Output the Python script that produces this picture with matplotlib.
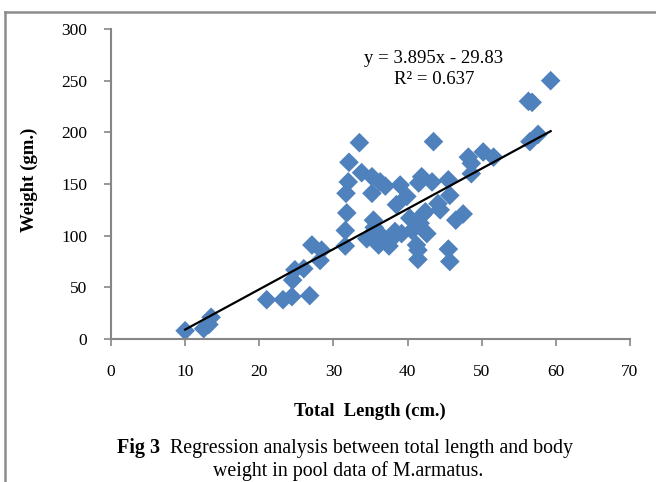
import matplotlib
matplotlib.use("Agg")
import matplotlib.pyplot as plt
from matplotlib.lines import Line2D
import numpy as np

# Data: total length (cm) and weight (g)
length_cm = [10, 12.5, 13.2, 13.5, 21, 23.2, 24.4, 26.8, 24.5, 24.8, 26,
             27.1, 28.4, 28.2, 31.6, 31.6, 31.8, 31.7, 32, 32.1, 33.5, 33.8,
             35.2, 36.3, 35.2, 35.4, 34.5, 36.1, 37.4, 38.3, 35.5, 36.5,
             39, 39.9, 38.5, 40.3, 40.6, 39.2, 41.7, 42.4, 42.6, 41.2, 41.4,
             41.4, 41.9, 41.5, 43.3, 43.5, 44.1, 44.4, 45.5, 45.7, 45.5, 45.7,
             46.5, 47.5, 48.2, 48.6, 48.6, 50.2, 51.6, 56.3, 56.8, 57.6, 56.5,
             59.3, 36.8, 38.0, 37.5, 42.0, 37.0]
weight_g = [8, 10, 14, 21, 38, 38, 41, 42, 57, 67, 68,
            91, 86, 76, 90, 105, 122, 141, 152, 171, 190, 161,
            157, 152, 141, 115, 97, 91, 94, 104, 108, 100,
            149, 138, 130, 117, 105, 102, 112, 123, 102, 91, 86,
            77, 157, 151, 152, 191, 131, 125, 154, 139, 87, 75,
            115, 121, 176, 170, 160, 181, 176, 230, 229, 198, 191,
            250, 96, 98, 90, 120, 148]

slope = 3.895
intercept = -29.83
r_squared = 0.637

x_ticks = [0, 10, 20, 30, 40, 50, 60, 70]
y_ticks = [0, 50, 100, 150, 200, 250, 300]

serif = ["Liberation Serif", "DejaVu Serif"]
plt.rcParams["font.family"] = serif

fig = plt.figure(figsize=(6.56, 4.82), dpi=100)
ax = fig.add_axes([111/656, 143/482, (630-111)/656, (339-29)/482])

ax.scatter(length_cm, weight_g, marker="D", s=100, color="#4F81BD",
           edgecolors="none", zorder=2)

xl = np.array([min(length_cm), max(length_cm)])
ax.plot(xl, slope * xl + intercept, color="black", lw=1.6, zorder=3)

ax.set_xlim(0, 70)
ax.set_ylim(0, 300)
ax.set_xticks(x_ticks)
ax.set_yticks(y_ticks)
ax.tick_params(axis="both", colors="#868686", labelcolor="black",
               labelsize=12.5, length=5, width=1.2, direction="out")
ax.tick_params(axis="x", pad=13)
ax.tick_params(axis="y", pad=12)
for s in ["top", "right"]:
    ax.spines[s].set_visible(False)
for s in ["left", "bottom"]:
    ax.spines[s].set_color("#868686")
    ax.spines[s].set_linewidth(1.5)

ax.text(0.622, 0.905, f"y = {slope}x - {abs(intercept)}", transform=ax.transAxes,
        ha="center", va="center", fontsize=13.5)
ax.text(0.622, 0.838, f"R² = {r_squared}", transform=ax.transAxes,
        ha="center", va="center", fontsize=13.5)

fig.text(29/656, 1 - 180/482, "Weight (gm.)", rotation=90, ha="center",
         va="center", fontsize=13.5, fontweight="bold")
fig.text(370/656, 1 - 411/482, "Total  Length (cm.)", ha="center",
         va="center", fontsize=13.3, fontweight="bold")

fig.text(117/656, 1 - 448/482, "Fig 3", ha="left", va="center",
         fontsize=14.5, fontweight="bold")
fig.text(170/656, 1 - 448/482,
         "Regression analysis between total length and body",
         ha="left", va="center", fontsize=14.3)
fig.text(348/656, 1 - 471/482, "weight in pool data of M.armatus.",
         ha="center", va="center", fontsize=14.3)

# outer frame (left and top edges)
fig.add_artist(Line2D([5/656, 5/656], [0, 1 - 12/482], transform=fig.transFigure,
                      color="#8c8c8c", lw=1.8))
fig.add_artist(Line2D([5/656, 1], [1 - 12/482, 1 - 12/482], transform=fig.transFigure,
                      color="#8c8c8c", lw=1.8))

fig.savefig("out.png", dpi=100)
